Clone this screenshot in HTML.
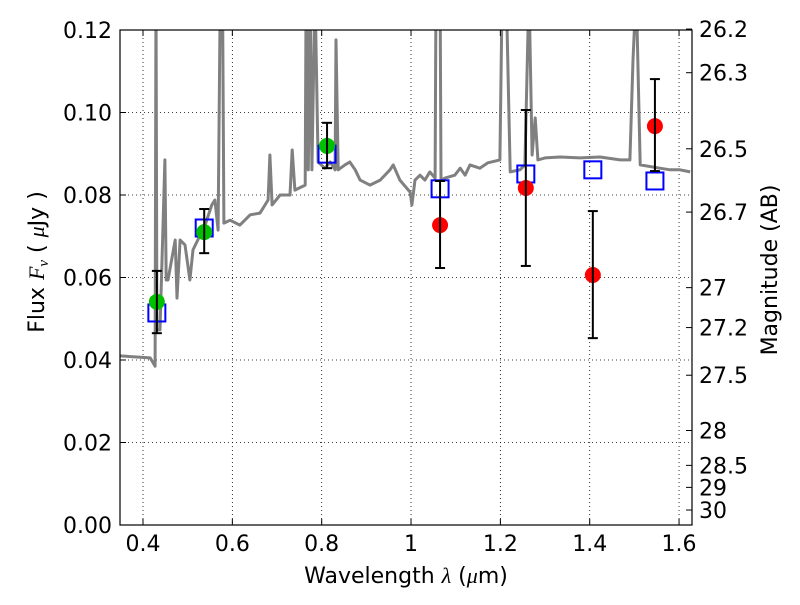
<!DOCTYPE html>
<html><head><meta charset="utf-8"><style>
body{margin:0;background:#fff;}
svg text{font-family:"DejaVu Sans","Liberation Sans",sans-serif;font-size:22px;fill:#000;}
</style></head><body>
<svg id="chart" width="800" height="600">
<g id="grid"></g>
<g id="spec"></g>
<g id="phot"></g>
<rect x="120" y="30" width="572" height="495" fill="none" stroke="#000" stroke-width="1.2"/>
<g id="axes"></g>
<text x="406" y="583" text-anchor="middle">Wavelength  <tspan font-style="italic" font-family="Liberation Serif, serif">λ</tspan> (<tspan font-style="italic" font-family="Liberation Serif, serif">μ</tspan>m)</text>
<text transform="translate(44,262) rotate(-90)" text-anchor="middle">Flux  <tspan font-style="italic" font-family="Liberation Serif, serif">F<tspan font-size="15" dy="4">ν</tspan></tspan><tspan dy="-4">  ( </tspan><tspan font-style="italic" font-family="Liberation Serif, serif">μ</tspan>Jy )</text>
<text transform="translate(777,270) rotate(-90)" text-anchor="middle">Magnitude (AB)</text>
</svg>
<script>
const specLam=[0.349,0.416,0.427,0.429,0.431,0.438,0.449,0.452,0.456,0.472,0.476,0.483,0.494,0.505,0.512,0.528,0.539,0.554,0.561,0.568,0.573,0.575,0.578,0.581,0.595,0.617,0.640,0.662,0.680,0.684,0.689,0.707,0.729,0.734,0.740,0.763,0.765,0.770,0.774,0.778,0.785,0.792,0.807,0.819,0.830,0.832,0.837,0.852,0.863,0.875,0.886,0.908,0.931,0.953,0.960,0.975,0.998,1.002,1.009,1.020,1.031,1.042,1.054,1.056,1.065,1.067,1.076,1.098,1.110,1.121,1.132,1.154,1.172,1.199,1.204,1.213,1.222,1.244,1.255,1.264,1.271,1.278,1.284,1.300,1.334,1.378,1.423,1.468,1.490,1.497,1.504,1.513,1.557,1.580,1.602,1.625];
const specFlux=[0.0410,0.0405,0.0385,0.13,0.0473,0.0473,0.0885,0.0594,0.0594,0.0691,0.0550,0.0691,0.0679,0.0594,0.0667,0.0703,0.0727,0.0776,0.0788,0.0715,0.13,0.13,0.13,0.0732,0.0739,0.0727,0.0752,0.0756,0.0788,0.0897,0.0776,0.0800,0.0800,0.0909,0.0812,0.0824,0.13,0.0861,0.13,0.0861,0.13,0.0880,0.0865,0.0880,0.0861,0.1176,0.0861,0.0873,0.0880,0.0861,0.0836,0.0824,0.0836,0.0861,0.0873,0.0836,0.0807,0.0776,0.0836,0.0848,0.0836,0.0856,0.0841,0.13,0.13,0.0836,0.0841,0.0848,0.0865,0.0848,0.0873,0.0865,0.0878,0.0885,0.13,0.13,0.0856,0.0861,0.0873,0.13,0.0897,0.0987,0.0885,0.0890,0.0892,0.0890,0.0892,0.0885,0.0885,0.1127,0.13,0.0873,0.0865,0.0861,0.0861,0.0856];
const photLam=[0.431,0.537,0.812,1.065,1.257,1.407,1.546];
const obsFlux=[0.0541,0.0710,0.0919,0.0727,0.0817,0.0606,0.0967];
const errHi=[0.0616,0.0766,0.0975,0.0834,0.1006,0.0761,0.1081];
const errLo=[0.0465,0.0659,0.0865,0.0623,0.0628,0.0453,0.0858];
const modelFlux=[0.0514,0.0720,0.0899,0.0815,0.0851,0.0861,0.0834];
const obsColor=['#00c000','#00c000','#00c000','#ff0000','#ff0000','#ff0000','#ff0000'];
const xTicks=[0.4,0.6,0.8,1.0,1.2,1.4,1.6];
const xTickLabels=['0.4','0.6','0.8','1','1.2','1.4','1.6'];
const yTicks=[0,0.02,0.04,0.06,0.08,0.10,0.12];
const yTickLabels=['0.00','0.02','0.04','0.06','0.08','0.10','0.12'];
const magTicks=[26.2,26.3,26.5,26.7,27,27.2,27.5,28,28.5,29,30];
const magTickLabels=['26.2','26.3','26.5','26.7','27','27.2','27.5','28','28.5','29','30'];

const X0=120,X1=692,Y0=525,Y1=30,LMIN=0.3485,LMAX=1.629,FMAX=0.12;
const sx=l=>X0+(l-LMIN)/(LMAX-LMIN)*(X1-X0);
const sy=f=>Y0-f/FMAX*(Y0-Y1);
const ns='http://www.w3.org/2000/svg';
function mk(tag,attrs,parent){const e=document.createElementNS(ns,tag);for(const k in attrs)e.setAttribute(k,attrs[k]);parent.appendChild(e);return e;}
const grid=document.getElementById('grid'),axes=document.getElementById('axes'),spec=document.getElementById('spec'),phot=document.getElementById('phot');

xTicks.forEach((t,i)=>{const x=sx(t);
 const g=mk('line',{x1:x,x2:x,y1:Y1,y2:Y0,stroke:'#000','stroke-width':0.8,'stroke-dasharray':'1,3'},grid);
 
 mk('line',{x1:x,x2:x,y1:Y0,y2:Y0-6,stroke:'#000'},axes);mk('line',{x1:x,x2:x,y1:Y1,y2:Y1+6,stroke:'#000'},axes);
 const tx=mk('text',{x:x,y:Y0+26,'text-anchor':'middle'},axes);tx.textContent=xTickLabels[i];
 });
yTicks.forEach((t,i)=>{const y=sy(t);
 const g=mk('line',{x1:X0,x2:X1,y1:y,y2:y,stroke:'#000','stroke-width':0.8,'stroke-dasharray':'1,3'},grid);
 
 mk('line',{x1:X0,x2:X0+6,y1:y,y2:y,stroke:'#000'},axes);
 const tx=mk('text',{x:X0-8,y:y+8,'text-anchor':'end'},axes);tx.textContent=yTickLabels[i];
 });
magTicks.forEach((m,i)=>{const f=Math.pow(10,(23.9-m)/2.5);const y=sy(f);
 mk('line',{x1:X1,x2:X1-6,y1:y,y2:y,stroke:'#000'},axes);
 const tx=mk('text',{x:X1+7,y:y+8,'text-anchor':'start'},axes);tx.textContent=magTickLabels[i];
 });

const clip=mk('clipPath',{id:'pc'},document.getElementById('chart'));
mk('rect',{x:X0,y:Y1,width:X1-X0,height:Y0-Y1},clip);
const pts=specLam.map((l,i)=>sx(l).toFixed(1)+','+sy(specFlux[i]).toFixed(1)).join(' ');
const pl=mk('polyline',{points:pts,fill:'none',stroke:'#808080','stroke-width':3,'stroke-linejoin':'round','clip-path':'url(#pc)'},spec);


photLam.forEach((l,i)=>{const x=sx(l);
 const s=mk('rect',{x:x-8.5,y:sy(modelFlux[i])-8.5,width:17,height:17,fill:'none',stroke:'#0000ff','stroke-width':2},phot);
 
 const c=mk('circle',{cx:x,cy:sy(obsFlux[i]),r:8,fill:obsColor[i]},phot);
 
 const e=mk('g',{},phot);
 
 mk('line',{x1:x,x2:x,y1:sy(errHi[i]),y2:sy(errLo[i]),stroke:'#000','stroke-width':2},e);
 mk('line',{x1:x-5,x2:x+5,y1:sy(errHi[i]),y2:sy(errHi[i]),stroke:'#000','stroke-width':2},e);
 mk('line',{x1:x-5,x2:x+5,y1:sy(errLo[i]),y2:sy(errLo[i]),stroke:'#000','stroke-width':2},e);
});
</script>
</body></html>
